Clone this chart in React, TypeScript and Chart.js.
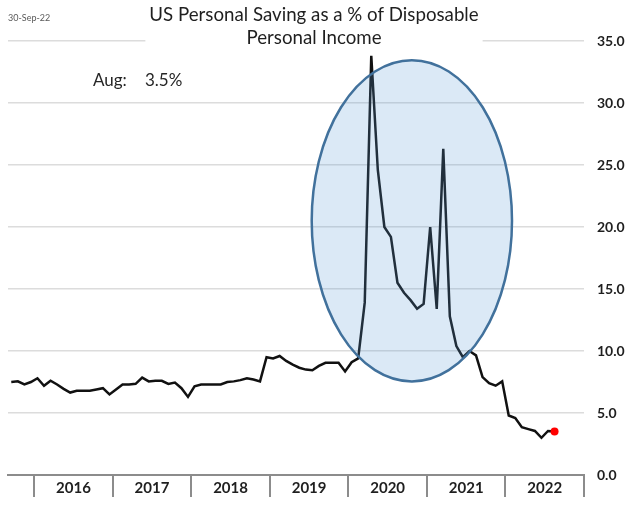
import { useEffect, useRef } from 'react';
import { Chart, registerables } from 'chart.js';

Chart.register(...registerables);

// ---- data ----
const noteDate = '30-Sep-22';
const titleLines = ['US Personal Saving as a % of Disposable', 'Personal Income'];
const monthNames = ['Jan', 'Feb', 'Mar', 'Apr', 'May', 'Jun', 'Jul', 'Aug', 'Sep', 'Oct', 'Nov', 'Dec'];
const firstYear = 2015;
const firstMonth = 9; // September 2015
const savingRate = [
  // 2015 Sep-Dec
  7.5, 7.55, 7.3, 7.5,
  // 2016
  7.8, 7.2, 7.6, 7.3, 6.95, 6.65, 6.8, 6.8, 6.8, 6.9, 7.0, 6.5,
  // 2017
  6.9, 7.3, 7.3, 7.35, 7.85, 7.55, 7.6, 7.6, 7.35, 7.45, 7.0, 6.3,
  // 2018
  7.15, 7.3, 7.3, 7.3, 7.3, 7.5, 7.55, 7.65, 7.8, 7.7, 7.55, 9.5,
  // 2019
  9.4, 9.6, 9.2, 8.9, 8.65, 8.5, 8.45, 8.8, 9.05, 9.05, 9.05, 8.35,
  // 2020
  9.1, 9.4, 13.9, 33.8, 24.6, 20.0, 19.2, 15.5, 14.7, 14.1, 13.4, 13.8,
  // 2021
  20.0, 13.4, 26.3, 12.8, 10.4, 9.5, 10.0, 9.65, 7.9, 7.4, 7.2, 7.55,
  // 2022 Jan-Aug
  4.8, 4.6, 3.85, 3.7, 3.55, 3.0, 3.55, 3.5,
];
const yearLabels = ['2016', '2017', '2018', '2019', '2020', '2021', '2022'];
const yMin = 0;
const yMax = 35;
const yStep = 5;
// highlight ellipse, in data units (months since Jan 2016, percent)
const highlightCenterMonth = 57.7;
const highlightCenterValue = 20.5;
const highlightHalfMonths = 15.3;
const highlightHalfValue = 12.95;

// ---- derived ----
const axisStartYear = Number(yearLabels[0]);
const monthOffset = (firstYear - axisStartYear) * 12 + (firstMonth - 1);
const points = savingRate.map((v, i) => ({ x: monthOffset + i + 0.5, y: v }));
const lastIndex = savingRate.length - 1;
const lastMonthName = monthNames[(firstMonth - 1 + lastIndex) % 12];
const lastValue = savingRate[lastIndex];

const FONT = 'Lato, "Open Sans", sans-serif';

const textPlugin = {
  id: 'texts',
  afterDraw(chart: any) {
    const ctx = chart.ctx as CanvasRenderingContext2D;
    ctx.save();
    // date note
    ctx.font = `9px ${FONT}`;
    ctx.fillStyle = '#595959';
    ctx.textAlign = 'left';
    ctx.textBaseline = 'middle';
    ctx.fillText(noteDate, 8, 18);
    // title with white backdrop
    ctx.font = `18.7px ${FONT}`;
    const cx = 314;
    const w = Math.max(...titleLines.map((t) => ctx.measureText(t).width));
    ctx.fillStyle = '#ffffff';
    ctx.fillRect(cx - w / 2 - 4, 0, w + 8, 48);
    ctx.fillStyle = '#1f1f1f';
    ctx.textAlign = 'center';
    ctx.fillText(titleLines[0], cx, 15);
    ctx.fillText(titleLines[1], cx, 38);
    // annotation
    ctx.font = `17px ${FONT}`;
    ctx.fillStyle = '#262626';
    ctx.textAlign = 'left';
    ctx.fillText(`${lastMonthName}:`, 93, 81);
    ctx.fillText(`${lastValue.toFixed(1)}%`, 145, 81);
    ctx.restore();
  },
};

const ellipsePlugin = {
  id: 'highlight',
  afterDatasetsDraw(chart: any) {
    const { x, y } = chart.scales;
    const ctx = chart.ctx as CanvasRenderingContext2D;
    const px = x.getPixelForValue(highlightCenterMonth);
    const py = y.getPixelForValue(highlightCenterValue);
    const rx = Math.abs(x.getPixelForValue(highlightCenterMonth + highlightHalfMonths) - px);
    const ry = Math.abs(y.getPixelForValue(highlightCenterValue + highlightHalfValue) - py);
    ctx.save();
    ctx.beginPath();
    ctx.ellipse(px, py, rx, ry, 0, 0, Math.PI * 2);
    ctx.fillStyle = 'rgba(91,155,213,0.22)';
    ctx.fill();
    ctx.lineWidth = 2.5;
    ctx.strokeStyle = '#41719c';
    ctx.stroke();
    ctx.restore();
  },
};

export default function App() {
  const ref = useRef<HTMLCanvasElement | null>(null);
  useEffect(() => {
    if (!ref.current) return;
    const chart = new Chart(ref.current, {
      type: 'line',
      data: {
        datasets: [
          {
            data: points,
            borderColor: '#111111',
            borderWidth: 2.5,
            tension: 0,
            pointRadius: (c: any) => (c.dataIndex === lastIndex ? 4 : 0),
            pointBackgroundColor: '#ff0000',
            pointBorderColor: '#ff0000',
            pointBorderWidth: 0,
          },
        ],
      },
      options: {
        animation: false,
        responsive: true,
        maintainAspectRatio: false,
        layout: { padding: { left: 8, top: 41, right: 0, bottom: 0 } },
        plugins: { legend: { display: false }, tooltip: { enabled: false }, title: { display: false } },
        scales: {
          x: {
            type: 'linear',
            min: monthOffset,
            max: yearLabels.length * 12,
            afterBuildTicks: (scale: any) => {
              const t: { value: number }[] = [];
              for (let k = 0; k <= yearLabels.length; k++) {
                t.push({ value: k * 12 });
                if (k < yearLabels.length) t.push({ value: k * 12 + 6 });
              }
              scale.ticks = t;
            },
            afterFit: (scale: any) => {
              scale.height = 34;
            },
            grid: {
              display: true,
              drawOnChartArea: false,
              drawTicks: true,
              tickLength: 22,
              lineWidth: 2,
              color: (c: any) => (c.tick && c.tick.value % 12 === 0 ? '#8c8c8c' : 'rgba(0,0,0,0)'),
            },
            border: { display: true, color: '#8c8c8c', width: 2 },
            ticks: {
              autoSkip: false,
              maxRotation: 0,
              padding: -18,
              color: '#1f1f1f',
              font: { family: FONT, size: 15, weight: 'bold' },
              callback: (v: any) => {
                const n = Number(v);
                return n % 12 === 6 ? yearLabels[(n - 6) / 12] : '';
              },
            },
          },
          y: {
            position: 'right',
            min: yMin,
            max: yMax,
            afterFit: (scale: any) => {
              scale.width = 46;
            },
            grid: {
              drawTicks: false,
              lineWidth: 1.5,
              color: (c: any) => (c.tick && c.tick.value === 0 ? 'rgba(0,0,0,0)' : '#dcdcdc'),
            },
            border: { display: false },
            ticks: {
              stepSize: yStep,
              padding: 13,
              color: '#1f1f1f',
              font: { family: FONT, size: 14, weight: 'bold' },
              callback: (v: any) => Number(v).toFixed(1),
            },
          },
        },
      },
      plugins: [ellipsePlugin, textPlugin],
    } as any);
    return () => chart.destroy();
  }, []);
  return (
    <div style={{ position: 'absolute', left: 0, top: 0, width: 630, height: 509, background: '#fff' }}>
      <canvas ref={ref} />
    </div>
  );
}
